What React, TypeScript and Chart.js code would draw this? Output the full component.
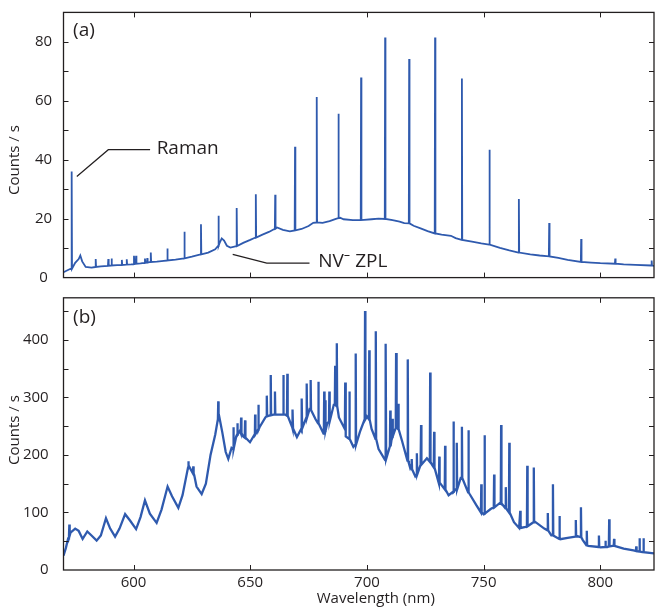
import React, { useEffect, useRef } from 'react';
import { Chart, registerables } from 'chart.js';

Chart.register(...registerables);

// ---------- data ----------
const X_MIN = 570;
const X_MAX = 823;
const X_TICKS = [600, 650, 700, 750, 800];

const A_Y_MAX = 90;
const A_Y_STEP = 10;
const A_Y_LABEL_STEP = 20;

const B_Y_MAX = 473;
const B_Y_STEP = 50;
const B_Y_LABEL_STEP = 100;

// Panel (a): broad background [wavelength nm, counts/s]
const baselineA: [number, number][] = [
  [570, 1.8], [571.5, 2.4], [572.8, 2.9], [575, 5], [576.5, 6.3], [577.2, 7.5], [578, 5.5],
  [579.5, 3.6], [582, 3.4], [586, 3.8], [593, 4.2], [599, 4.5], [603, 4.8], [610, 5.4],
  [613, 5.7], [618, 6.1], [625, 7.1], [632, 8.5], [635, 9.6], [637, 12.0], [637.8, 13.3],
  [638.8, 12.6], [640, 10.8], [641.5, 10.2], [647, 11.8], [650, 12.8], [655, 14.5],
  [658, 15.5], [661.5, 17], [664, 16.2], [667, 15.7], [672, 16.5], [675, 17.5], [677, 18.6],
  [681, 18.6], [684, 19.2], [687, 20], [688.5, 20.3], [690, 19.8], [694, 19.5], [702, 19.8],
  [705, 20], [711, 19.5], [714, 19], [716, 18.5], [720, 17.6], [723, 16.7], [726, 15.8],
  [732, 14.6], [736, 14.2], [738, 13.4], [745, 12.2], [749, 11.6], [757, 10.1], [761, 9.2],
  [770, 7.9], [774, 7.5], [782, 6.7], [786, 6.0], [796, 5.1], [800, 4.9], [810, 4.5],
  [815, 4.3], [823, 4.0],
];

// Panel (a): narrow lines [wavelength, peak, base]
const spikesA: [number, number, number][] = [
  [573.5, 36, 3], [583.8, 6.3, 3.6], [589.2, 6.3, 4], [590.6, 6.5, 4.1], [595, 6, 4.3],
  [597.1, 6.2, 4.4], [600.2, 7.4, 4.6], [601.1, 7.4, 4.7], [604.9, 6.5, 5], [605.9, 6.6, 5.1],
  [607.4, 8.5, 5.3], [614.5, 9.9, 5.8], [621.8, 15.6, 6.5], [628.9, 18.1, 7.9],
  [636.4, 21, 10.8], [644.2, 23.6, 10.7], [652.4, 28.3, 13.6], [660.7, 28.1, 16.6],
  [669.2, 44.4, 16], [678.5, 61.3, 18.7], [687.8, 55.6, 20.2], [697.5, 67.9, 19.5],
  [707.8, 81.5, 19.9], [718.1, 74.2, 18.4], [729.2, 81.5, 15], [740.7, 67.6, 12.8],
  [752.5, 43.4, 11.2], [765.1, 26.7, 8.5], [778.1, 18.5, 7.2], [791.8, 13.1, 5.3],
  [806.4, 6.5, 4.7], [822, 5.8, 4.1],
];

// Panel (b): broad background with fringes
const baselineB: [number, number][] = [
  [570, 25], [571, 38], [572, 55], [573, 65], [575, 72], [576.5, 68], [578.2, 54], [580.2, 67],
  [582, 60], [584.2, 51], [586, 60], [588.2, 90], [590, 72], [592.1, 58], [594, 72],
  [596.4, 97], [598.5, 86], [601.1, 71], [603, 92], [604.9, 121], [607, 98], [609.9, 82],
  [612, 105], [614.6, 145], [616.5, 128], [619.2, 108], [621, 130], [623.8, 180], [626, 165],
  [627, 145], [629.2, 132], [631, 150], [633, 200], [635, 235], [636.8, 265], [638, 240],
  [639.5, 205], [640.6, 193], [642, 212], [644, 232], [645.6, 242], [647, 232], [649.9, 222],
  [652, 235], [654, 248], [656.5, 265], [660, 270], [665, 270], [668, 248], [670, 231],
  [672, 245], [675.4, 279], [678, 262], [681.4, 237], [683, 255], [685.8, 287], [688, 265],
  [691, 232], [694.2, 214], [697, 240], [700, 267], [702, 245], [705, 210], [707.8, 191],
  [710.5, 225], [712.8, 248], [715, 225], [718, 185], [720.7, 163], [723, 183], [725.7, 194],
  [728, 182], [731.5, 150], [735, 130], [738, 140], [740.2, 160], [744, 132], [747, 112],
  [750, 97], [753, 106], [757.1, 117], [760, 105], [763, 83], [765.2, 73], [768, 75],
  [772, 84], [776, 72], [779, 60], [782.8, 53.5], [786, 56], [790, 59], [792.5, 52],
  [794.8, 42], [800, 39.4], [803, 40], [805.3, 42], [810, 37], [814.2, 34], [818, 31],
  [823, 29],
];

// Panel (b): narrow lines [wavelength, peak, base]
const spikesB: [number, number, number][] = [
  [572.5, 79, 60], [623.5, 189, 178], [625.6, 180, 168], [636.3, 293, 262], [642.8, 248, 210],
  [644.5, 255, 235], [646.1, 265, 238], [647.8, 260, 230], [652.1, 270, 236], [653.5, 287, 244],
  [657.1, 303, 267], [658.8, 339, 269], [660.6, 310, 270], [664.2, 339, 270], [665.9, 341, 268],
  [668.2, 279, 246], [672.1, 298, 246], [674.2, 324, 265], [675.9, 330, 278], [679.2, 327, 255],
  [681.7, 310, 238], [682.2, 295, 242], [683.9, 310, 258], [686.4, 355, 287], [687.1, 394, 285],
  [690.7, 326, 245], [692.5, 310, 228], [695.2, 376, 218], [699.2, 450, 262], [701, 382, 262],
  [703.8, 415, 228], [708.1, 393, 193], [710, 277, 215], [711, 263, 232], [712.5, 377, 247],
  [713.5, 289, 245], [717.5, 366, 190], [719.2, 193, 175], [721.4, 203, 166], [723.2, 252, 183],
  [727.1, 343, 188], [728.8, 240, 178], [731, 197, 150], [733.5, 216, 140], [737.1, 258, 136],
  [738.5, 221, 140], [740.7, 249, 160], [743.5, 243, 135], [749, 149, 100], [750.4, 234, 98],
  [754.5, 166, 109], [757.5, 252, 116], [759.5, 144, 107], [761, 221, 100], [765.7, 103, 73],
  [768.7, 181, 76], [771.5, 178, 83], [777.5, 99, 69], [779.7, 149, 60], [782.5, 94, 54],
  [789.5, 87, 58], [791.7, 109, 57], [794.2, 68, 43], [799.4, 60, 40], [802.2, 51, 40],
  [803.8, 88, 41], [805.9, 54, 42], [815.4, 41, 33], [816.8, 55, 32], [818.5, 55, 31],
];

// ---------- style ----------
const LINE_COLOR = '#2f5aae';
const INK = '#231f20';
const FONT = "'Open Sans', 'Noto Sans', sans-serif";

function buildSeries(baseline: [number, number][], spikes: [number, number, number][]) {
  const pts = baseline.map(([x, y]) => ({ x, y }));
  for (const [w, peak, base] of spikes) {
    pts.push({ x: w - 0.15, y: base }, { x: w, y: peak }, { x: w + 0.15, y: base });
  }
  pts.sort((a, b) => a.x - b.x);
  return pts;
}

type PanelOpts = {
  yMax: number;
  yStep: number;
  yLabelStep: number;
  showX: boolean;
  padTop: number;
  xHeight: number;
  yLabelCross: 'near' | 'center';
  yLabelPad: number;
  yTitleCenter: number; // canvas px
  drawExtra: (chart: any) => void;
};

function makeChart(canvas: HTMLCanvasElement, data: { x: number; y: number }[], lw: number, o: PanelOpts) {
  const framePlugin = {
    id: 'frame',
    afterDraw(chart: any) {
      const { ctx, chartArea } = chart;
      const { left, right, top, bottom } = chartArea;
      const xs = chart.scales.x;
      const ys = chart.scales.y;
      ctx.save();
      ctx.strokeStyle = INK;
      ctx.lineWidth = 1.3;
      ctx.strokeRect(left, top, right - left, bottom - top);
      ctx.lineWidth = 1;
      ctx.beginPath();
      for (const xv of X_TICKS) {
        const px = Math.round(xs.getPixelForValue(xv)) + 0.5;
        ctx.moveTo(px, top);
        ctx.lineTo(px, top + 5);
        ctx.moveTo(px, bottom);
        ctx.lineTo(px, bottom - 5);
      }
      for (let v = o.yStep; v < o.yMax; v += o.yStep) {
        const py = Math.round(ys.getPixelForValue(v)) + 0.5;
        ctx.moveTo(left, py);
        ctx.lineTo(left + 5, py);
        ctx.moveTo(right, py);
        ctx.lineTo(right - 5, py);
      }
      ctx.stroke();
      // y title
      ctx.fillStyle = INK;
      ctx.font = `15px ${FONT}`;
      ctx.translate(15, o.yTitleCenter);
      ctx.rotate(-Math.PI / 2);
      ctx.textAlign = 'center';
      ctx.textBaseline = 'middle';
      ctx.fillText('Counts / s', 0, 0);
      ctx.restore();
      ctx.save();
      o.drawExtra(chart);
      ctx.restore();
    },
  };

  return new Chart(canvas, {
    type: 'line',
    data: {
      datasets: [
        {
          data,
          borderColor: LINE_COLOR,
          borderWidth: lw,
          pointRadius: 0,
          tension: 0,
          fill: false,
        },
      ],
    },
    options: {
      animation: false,
      responsive: false,
      maintainAspectRatio: false,
      devicePixelRatio: 1,
      layout: { padding: { top: o.padTop, right: 1, left: 0, bottom: 0 } },
      plugins: { legend: { display: false }, tooltip: { enabled: false } },
      scales: {
        x: {
          type: 'linear',
          min: X_MIN,
          max: X_MAX,
          grid: { display: false },
          border: { display: false },
          ticks: {
            display: o.showX,
            stepSize: 50,
            includeBounds: false,
            padding: -4,
            color: INK,
            font: { family: FONT, size: 15 },
            maxRotation: 0,
            autoSkip: false,
            callback: (v: any) => (Number(v) % 50 === 0 ? String(v) : ''),
          },
          afterFit: (s: any) => {
            s.height = o.xHeight;
          },
        },
        y: {
          type: 'linear',
          min: 0,
          max: o.yMax,
          grid: { display: false },
          border: { display: false },
          ticks: {
            stepSize: o.yStep,
            includeBounds: false,
            crossAlign: o.yLabelCross,
            padding: o.yLabelPad,
            color: INK,
            font: { family: FONT, size: 15 },
            autoSkip: false,
            callback: (v: any) => (Number(v) % o.yLabelStep === 0 ? String(v) : ''),
          },
          afterFit: (s: any) => {
            s.width = 63.5;
          },
        },
      },
    },
    plugins: [framePlugin],
  } as any);
}

export default function App() {
  const topRef = useRef<HTMLCanvasElement>(null);
  const botRef = useRef<HTMLCanvasElement>(null);

  useEffect(() => {
    const seriesA = buildSeries(baselineA, spikesA);
    const seriesB = buildSeries(baselineB, spikesB);

    const chartA = makeChart(topRef.current!, seriesA, 1.8, {
      yMax: A_Y_MAX,
      yStep: A_Y_STEP,
      yLabelStep: A_Y_LABEL_STEP,
      showX: false,
      padTop: 5,
      xHeight: 8.5,
      yLabelCross: 'center',
      yLabelPad: 3.4,
      yTitleCenter: 160,
      drawExtra: (chart: any) => {
        const { ctx } = chart;
        const xs = chart.scales.x;
        const ys = chart.scales.y;
        const P = (x: number, y: number) => [xs.getPixelForValue(x), ys.getPixelForValue(y)];
        ctx.fillStyle = INK;
        ctx.strokeStyle = INK;
        ctx.lineWidth = 1.2;
        ctx.textBaseline = 'middle';
        ctx.textAlign = 'left';
        ctx.font = `19px ${FONT}`;
        let [tx, ty] = P(574.1, 83.7);
        ctx.fillText('(a)', tx, ty);
        // Raman
        ctx.beginPath();
        let a = P(575.7, 34.3), b = P(589.2, 43.4), c = P(607.1, 43.4);
        ctx.moveTo(a[0], a[1]); ctx.lineTo(b[0], b[1]); ctx.lineTo(c[0], c[1]);
        ctx.stroke();
        [tx, ty] = P(609.9, 43.7);
        ctx.fillText('Raman', tx, ty);
        // NV- ZPL
        ctx.beginPath();
        a = P(642.5, 7.9); b = P(657.1, 4.9); c = P(675.4, 4.9);
        ctx.moveTo(a[0], a[1]); ctx.lineTo(b[0], b[1]); ctx.lineTo(c[0], c[1]);
        ctx.stroke();
        [tx, ty] = P(679.1, 5.3);
        ctx.fillText('NV\u207B ZPL', tx, ty);
      },
    });

    const chartB = makeChart(botRef.current!, seriesB, 2.3, {
      yMax: B_Y_MAX,
      yStep: B_Y_STEP,
      yLabelStep: B_Y_LABEL_STEP,
      showX: true,
      padTop: 8,
      xHeight: 42,
      yLabelCross: 'near',
      yLabelPad: 6.8,
      yTitleCenter: 148,
      drawExtra: (chart: any) => {
        const { ctx } = chart;
        const xs = chart.scales.x;
        const ys = chart.scales.y;
        ctx.fillStyle = INK;
        ctx.textBaseline = 'middle';
        ctx.textAlign = 'left';
        ctx.font = `19px ${FONT}`;
        ctx.fillText('(b)', xs.getPixelForValue(574.1), ys.getPixelForValue(439.4));
        ctx.font = `15px ${FONT}`;
        ctx.textAlign = 'center';
        ctx.fillText('Wavelength (nm)', xs.getPixelForValue(703.8), chart.chartArea.bottom + 29);
      },
    });

    return () => {
      chartA.destroy();
      chartB.destroy();
    };
  }, []);

  return (
    <div style={{ position: 'absolute', left: 0, top: 0, width: 655, height: 612, background: '#fff' }}>
      <canvas
        ref={topRef}
        width={655}
        height={290}
        style={{ position: 'absolute', left: 0, top: 0, width: 655, height: 290 }}
      />
      <canvas
        ref={botRef}
        width={655}
        height={330}
        style={{ position: 'absolute', left: 0, top: 282, width: 655, height: 330 }}
      />
    </div>
  );
}
